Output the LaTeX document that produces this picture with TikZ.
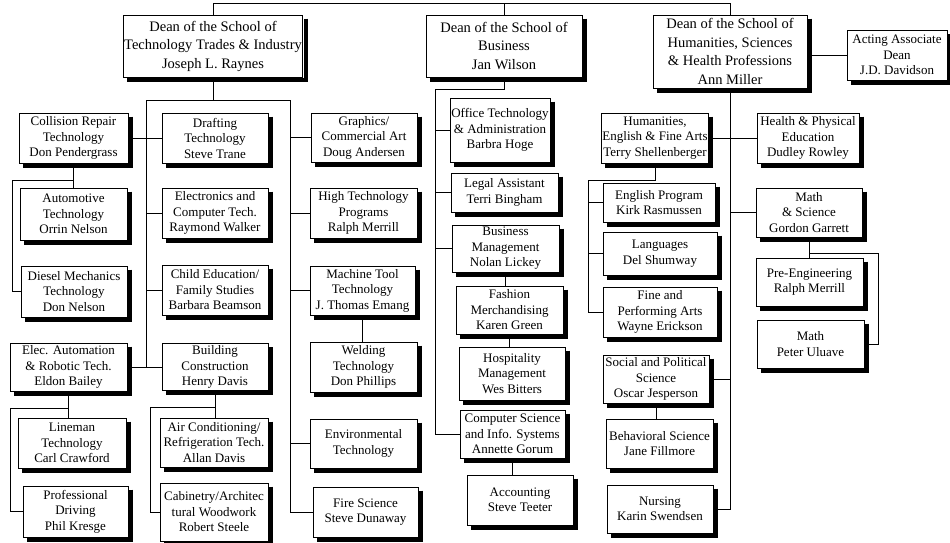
\documentclass[tikz,border=0pt]{standalone}
\usepackage{fontspec}
\setmainfont{Liberation Serif}
\usetikzlibrary{positioning,calc}

\begin{document}
\begin{tikzpicture}[x=1pt,y=-1pt,line width=0.8pt,
	size/.style 2 args={minimum width=#1pt,minimum height=#2pt}]
	\tikzstyle{unit}=[rectangle, draw=black, fill=white, align=center, inner sep=1pt, text=black,
	font=\fontsize{13}{15.5}\selectfont]
	\tikzstyle{dean}=[unit, font=\fontsize{14.5}{18.5}\selectfont]
	\tikzstyle{line}=[-, line width=0.8pt]
	\tikzstyle{boxshade}=[draw=black, line width=4pt, line cap=butt, miter limit=10]
	\useasboundingbox (0,0) rectangle (950,543);

	\node (deanTTI) [dean, size={170}{62}] at (213,46) {Dean of the School of\\Technology Trades \& Industry\\Joseph L. Raynes};
	\node (deanBus) [dean, size={156}{62}] at (504,46) {Dean of the School of\\Business\\Jan Wilson};
	\node (deanHum) [dean, size={154}{73}] at (730,51.5) {Dean of the School of\\Humanities, Sciences\\\& Health Professions\\Ann Miller};
	\node (acting) [unit, size={100}{50}] at (897,55) {Acting Associate\\Dean\\J.D. Davidson};

	\node (collision) [unit, size={109}{50}] at (73.5,138) {Collision Repair\\Technology\\Don Pendergrass};
	\node (automotive) [unit, size={107}{52}] at (73.5,214) {Automotive\\Technology\\Orrin Nelson};
	\node (diesel) [unit, size={106}{51}] at (74,291.5) {Diesel Mechanics\\Technology\\Don Nelson};
	\node (elec) [unit, size={117}{48}] at (68.5,367) {Elec. Automation\\\& Robotic Tech.\\Eldon Bailey};
	\node (lineman) [unit, size={108}{50}] at (72,443) {Lineman\\Technology\\Carl Crawford};
	\node (driving) [unit, size={105}{51}] at (75.5,511.5) {Professional\\Driving\\Phil Kresge};

	\node (drafting) [unit, size={106}{50}] at (215,138) {Drafting\\Technology\\Steve Trane};
	\node (electronics) [unit, size={106}{50}] at (215,213) {Electronics and\\Computer Tech.\\Raymond Walker};
	\node (child) [unit, size={106}{50}] at (215,290) {Child Education/\\Family Studies\\Barbara Beamson};
	\node (building) [unit, size={106}{47}] at (215,367) {Building\\Construction\\Henry Davis};
	\node (aircond) [unit, size={108}{49}] at (214,442.5) {Air Conditioning/\\Refrigeration Tech.\\Allan Davis};
	\node (cabinet) [unit, size={108}{58}] at (214,512) {Cabinetry/Architec\\tural Woodwork\\Robert Steele};

	\node (graphics) [unit, size={106}{49}] at (364,137.5) {Graphics/\\Commercial Art\\Doug Andersen};
	\node (hightech) [unit, size={107}{50}] at (363.5,213) {High Technology\\Programs\\Ralph Merrill};
	\node (machine) [unit, size={105}{49}] at (362.5,290.5) {Machine Tool\\Technology\\J. Thomas Emang};
	\node (welding) [unit, size={107}{50}] at (363.5,367) {Welding\\Technology\\Don Phillips};
	\node (environ) [unit, size={107}{49}] at (363.5,443.5) {Environmental\\Technology};
	\node (fire) [unit, size={105}{50}] at (365.5,512) {Fire Science\\Steve Dunaway};

	\node (office) [unit, size={100}{64}] at (500,130) {Office Technology\\\& Administration\\Barbra Hoge};
	\node (legal) [unit, size={107}{39}] at (504.5,192.5) {Legal Assistant\\Terri Bingham};
	\node (busmgmt) [unit, size={107}{47}] at (505.5,248.5) {Business\\Management\\Nolan Lickey};
	\node (fashion) [unit, size={107}{48}] at (509.5,310) {Fashion\\Merchandising\\Karen Green};
	\node (hospitality) [unit, size={106}{53}] at (512,373.5) {Hospitality\\Management\\Wes Bitters};
	\node (compsci) [unit, size={105}{48}] at (512.5,434) {Computer Science\\and Info. Systems\\Annette Gorum};
	\node (accounting) [unit, size={106}{50}] at (520,500) {Accounting\\Steve Teeter};

	\node (humfa) [unit, size={106}{50}] at (655,138) {Humanities,\\English \& Fine Arts\\Terry Shellenberger};
	\node (health) [unit, size={102}{50}] at (808,138) {Health \& Physical\\Education\\Dudley Rowley};
	\node (english) [unit, size={112}{39}] at (659,202.5) {English Program\\Kirk Rasmussen};
	\node (languages) [unit, size={114}{43}] at (660,253.5) {Languages\\Del Shumway};
	\node (fine) [unit, size={114}{50}] at (660,312) {Fine and\\Performing Arts\\Wayne Erickson};
	\node (social) [unit, size={106}{48}] at (656,379) {Social and Political\\Science\\Oscar Jesperson};
	\node (behavioral) [unit, size={107}{49}] at (659.5,443.5) {Behavioral Science\\Jane Fillmore};
	\node (nursing) [unit, size={106}{48}] at (660,509) {Nursing\\Karin Swendsen};
	\node (mathsci) [unit, size={106}{49}] at (809,212.5) {Math\\\& Science\\Gordon Garrett};
	\node (preeng) [unit, size={107}{48}] at (809.5,282) {Pre-Engineering\\Ralph Merrill};
	\node (mathpeter) [unit, size={107}{48}] at (810.5,344) {Math\\Peter Uluave};

	\foreach \n in {deanTTI,deanBus,deanHum,acting,collision,automotive,diesel,elec,lineman,driving,
		drafting,electronics,child,building,aircond,cabinet,graphics,hightech,machine,welding,environ,fire,
		office,legal,busmgmt,fashion,hospitality,compsci,accounting,humfa,health,english,languages,fine,
		social,behavioral,nursing,mathsci,preeng,mathpeter}
		\draw[boxshade] ($(\n.north east)+(2.4,4)$) -- ($(\n.south east)+(2.4,2.4)$) -- ($(\n.south west)+(4,2.4)$);

	\coordinate (top) at (0,3);
	\coordinate (ttiBar) at (0,100);
	\coordinate (ttiLeft) at (146,0);
	\coordinate (ttiRight) at (290,0);
	\coordinate (colBrk) at (12,180);
	\coordinate (elecBrk) at (10,408);
	\coordinate (bldBrk) at (150,407);
	\coordinate (busBar) at (435,89);
	\coordinate (humBrk) at (588,180);
	\coordinate (mathBrk) at (878,253);

	\draw[line] (deanTTI.north) -- (deanTTI.north |- top) -| (deanHum.north);
	\draw[line] (deanBus.north) -- (deanBus.north |- top);

	\draw[line] (deanTTI.south) -- (deanTTI.south |- ttiBar);
	\draw[line] (ttiLeft |- building.west) |- (ttiRight |- ttiBar) -- (ttiRight |- fire.west);
	\draw[line] (collision.east) -- (drafting.west);
	\draw[line] (elec.east) -- (building.west);
	\foreach \n in {electronics,child}
		\draw[line] (\n.west) -- (\n.west -| ttiLeft);
	\foreach \n in {graphics,hightech,machine,environ,fire}
		\draw[line] (\n.west) -- (\n.west -| ttiRight);
	\draw[line] (collision.south) -- (collision.south |- automotive.north);
	\draw[line] (collision.south |- colBrk) -- (colBrk) |- (diesel.west);
	\draw[line] (elec.south) -- (elec.south |- lineman.north);
	\draw[line] (elec.south |- elecBrk) -- (elecBrk) |- (driving.west);
	\draw[line] (building.south) -- (building.south |- aircond.north);
	\draw[line] (building.south |- bldBrk) -- (bldBrk) |- (cabinet.west);
	\draw[line] (machine.south) -- (machine.south |- welding.north);

	\draw[line] (deanBus.south) |- (busBar) |- (compsci.west);
	\foreach \n in {office,legal,busmgmt}
		\draw[line] (\n.west) -- (\n.west -| busBar);
	\draw[line] (busmgmt.south) -- (busmgmt.south |- fashion.north);
	\draw[line] (fashion.south) -- (fashion.south |- hospitality.north);
	\draw[line] (compsci.south) -- (compsci.south |- accounting.north);

	\draw[line] (acting.west -| deanHum.east) -- (acting.west);
	\draw[line] (deanHum.south) |- (nursing.east);
	\draw[line] (humfa.east) -- (health.west);
	\draw[line] (social.east) -- (social.east -| deanHum.south);
	\draw[line] (mathsci.west) -- (mathsci.west -| deanHum.south);
	\draw[line] (humfa.south) -- (humfa.south |- humBrk) -- (humBrk) |- (fine.west);
	\foreach \n in {english,languages}
		\draw[line] (\n.west) -- (\n.west -| humBrk);
	\draw[line] (social.south) -- (social.south |- behavioral.north);
	\draw[line] (mathsci.south) -- (mathsci.south |- preeng.north);
	\draw[line] (mathsci.south |- mathBrk) -- (mathBrk) |- (mathpeter.east);
\end{tikzpicture}
\end{document}
